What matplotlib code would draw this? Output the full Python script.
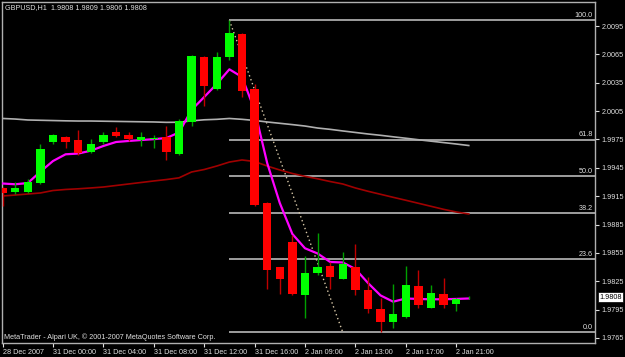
import matplotlib
matplotlib.use('Agg')
import matplotlib.pyplot as plt
import numpy as np

# GBPUSD,H1 - hourly candles
opens  = [1.9924, 1.9919, 1.9919, 1.9929, 1.9972, 1.9978, 1.9974, 1.9962, 1.9972, 1.9983,
          1.9980, 1.9974, 1.9976, 1.9978, 1.9960, 1.9993, 2.0062, 2.0028, 2.0062, 2.0087,
          2.0028, 1.9908, 1.9840, 1.9867, 1.9810, 1.9834, 1.9841, 1.9827, 1.9840, 1.9816,
          1.9796, 1.9782, 1.9787, 1.9820, 1.9797, 1.9812, 1.9801, 1.9808]
highs  = [1.9925, 1.9930, 1.9933, 1.9970, 1.9981, 1.9979, 1.9985, 1.9975, 1.9983, 1.9988,
          1.9983, 1.9983, 1.9980, 1.9989, 1.9997, 2.0064, 2.0063, 2.0067, 2.0101, 2.0088,
          2.0034, 1.9909, 1.9840, 1.9874, 1.9852, 1.9876, 1.9845, 1.9856, 1.9864, 1.9830,
          1.9807, 1.9822, 1.9841, 1.9837, 1.9821, 1.9828, 1.9807, 1.9809]
lows   = [1.9905, 1.9917, 1.9918, 1.9928, 1.9970, 1.9966, 1.9959, 1.9961, 1.9970, 1.9978,
          1.9973, 1.9968, 1.9966, 1.9953, 1.9959, 1.9989, 2.0010, 2.0027, 2.0059, 2.0020,
          1.9905, 1.9817, 1.9812, 1.9810, 1.9786, 1.9832, 1.9817, 1.9827, 1.9810, 1.9791,
          1.9771, 1.9776, 1.9786, 1.9797, 1.9797, 1.9797, 1.9794, 1.9806]
closes = [1.9918, 1.9924, 1.9930, 1.9965, 1.9980, 1.9972, 1.9961, 1.9970, 1.9980, 1.9979,
          1.9975, 1.9978, 1.9977, 1.9962, 1.9995, 2.0063, 2.0032, 2.0062, 2.0088, 2.0026,
          1.9906, 1.9837, 1.9827, 1.9812, 1.9834, 1.9840, 1.9830, 1.9843, 1.9816, 1.9796,
          1.9782, 1.9790, 1.9821, 1.9800, 1.9813, 1.9800, 1.9806, 1.9808]

# moving averages (values per bar)
ma_fast = [1.99284, 1.99276, 1.99289, 1.99409, 1.99522, 1.99593, 1.99601, 1.99631, 1.99681, 1.99723,
           1.99734, 1.99744, 1.99753, 1.99765, 1.99824, 2.00062, 2.00199, 2.00337, 2.00492, 2.00411,
           2.00062, 1.99501, 1.99078, 1.98750, 1.98599, 1.98544, 1.98454, 1.98449, 1.98380, 1.98232,
           1.98100, 1.98034, 1.98068, 1.98063, 1.98059, 1.98060, 1.98063, 1.98068]
ma_slow = [1.99972, 1.99966, 1.99956, 1.99953, 1.99950, 1.99947, 1.99945, 1.99945, 1.99943, 1.99941,
           1.99939, 1.99937, 1.99935, 1.99931, 1.99932, 1.99947, 1.99958, 1.99963, 1.99972, 1.99963,
           1.99951, 1.99935, 1.99921, 1.99907, 1.99892, 1.99871, 1.99857, 1.99840, 1.99824, 1.99808,
           1.99794, 1.99778, 1.99763, 1.99747, 1.99732, 1.99717, 1.99702, 1.99686]
ma_mid  = [1.99152, 1.99162, 1.99173, 1.99184, 1.99210, 1.99221, 1.99228, 1.99237, 1.99247, 1.99263,
           1.99279, 1.99295, 1.99311, 1.99326, 1.99344, 1.99406, 1.99432, 1.99469, 1.99511, 1.99533,
           1.99517, 1.99469, 1.99427, 1.99390, 1.99360, 1.99334, 1.99305, 1.99279, 1.99237, 1.99202,
           1.99170, 1.99138, 1.99107, 1.99075, 1.99043, 1.99011, 1.98983, 1.98962]

tick_pos = [0, 4, 8, 12, 16, 20, 24, 28, 32, 36]
tick_labels = ['28 Dec 2007', '31 Dec 00:00', '31 Dec 04:00', '31 Dec 08:00', '31 Dec 12:00',
               '31 Dec 16:00', '2 Jan 09:00', '2 Jan 13:00', '2 Jan 17:00', '2 Jan 21:00']
price_ticks = [1.9765, 1.9795, 1.9825, 1.9855, 1.9885, 1.9915, 1.9945, 1.9975, 2.0005, 2.0035, 2.0065, 2.0095]

fib_high = 2.0101
fib_low = 1.9771
fib_start = 18      # bar of the high
fib_end = 27        # end of the diagonal
fib_levels = [100.0, 61.8, 50.0, 38.2, 23.6, 0.0]

last_price = 1.9808
title = 'GBPUSD,H1  1.9808 1.9809 1.9806 1.9808'
footer = 'MetaTrader - Alpari UK, \u00a9 2001-2007 MetaQuotes Software Corp.'

plt.rcParams['font.family'] = ['Liberation Sans', 'DejaVu Sans']
txt = '#e0e0e0'
fs = 5.2

fig = plt.figure(figsize=(6.25, 3.57), dpi=100, facecolor='black')
ax = fig.add_axes([2/625, 14/357, 593/625, 341/357], facecolor='black')

x = np.arange(len(opens))
o = np.array(opens); h = np.array(highs); l = np.array(lows); c = np.array(closes)
up = c >= o

# fibo levels (background)
xmax = 47.02
for lv in fib_levels:
    p = fib_low + (fib_high - fib_low) * lv / 100
    ax.hlines(p, fib_start, xmax, color='#c8c8c8', linewidth=1.1, zorder=1)
    ax.text(46.86, p + 0.00012, '%.1f' % lv, color=txt, fontsize=fs, ha='right', va='bottom', zorder=5)
ax.plot([fib_start, fib_end], [fib_high, fib_low], color='#d8c8a8', linestyle=(0, (1, 2)), linewidth=1.0, zorder=2)

# indicators
ax.plot(x, ma_slow, color='#b0b0b0', linewidth=1.2, zorder=2)
ax.plot(x, ma_mid, color='#a00000', linewidth=1.2, zorder=2)
ax.plot(x, ma_fast, color='#ff00ff', linewidth=1.6, zorder=3)

# candles
ax.vlines(x[up], l[up], h[up], color='#00a000', linewidth=1.0, zorder=4)
ax.vlines(x[~up], l[~up], h[~up], color='#c00000', linewidth=1.0, zorder=4)
body_lo = np.minimum(o, c)
body_h = np.maximum(np.abs(c - o), 0.00008)
ax.bar(x[up], body_h[up], 0.66, bottom=body_lo[up], color='#00ff00', linewidth=0, zorder=5)
ax.bar(x[~up], body_h[~up], 0.66, bottom=body_lo[~up], color='#ff0000', linewidth=0, zorder=5)

ax.set_xlim(-0.048, xmax)
ax.set_ylim(1.97597, 2.01204)

ax.yaxis.tick_right()
ax.set_yticks(price_ticks)
ax.set_yticklabels(['%.4f' % p for p in price_ticks])
ax.set_xticks(tick_pos)
ax.set_xticklabels(tick_labels, ha='left')
ax.tick_params(axis='y', colors=txt, labelsize=fs, length=3, width=0.8, pad=1.5)
ax.tick_params(axis='x', colors=txt, labelsize=fs, length=3, width=0.8, pad=1.5)
for s in ax.spines.values():
    s.set_color('#b0b0b0')
    s.set_linewidth(1.0)

# last price box
ax.annotate('%.4f' % last_price, xy=(1.0, last_price), xycoords=('axes fraction', 'data'),
            xytext=(4, 0), textcoords='offset pixels', ha='left', va='center', fontsize=fs,
            color='black', bbox=dict(boxstyle='square,pad=0.2', facecolor='white', edgecolor='black', linewidth=0.5),
            annotation_clip=False, zorder=10)

fig.text(5/625, 1 - 8/357, title, color=txt, fontsize=fs, ha='left', va='center')
fig.text(4/625, 1 - 337/357, footer, color=txt, fontsize=fs, ha='left', va='center')

fig.savefig('out.png', dpi=100, facecolor='black')
